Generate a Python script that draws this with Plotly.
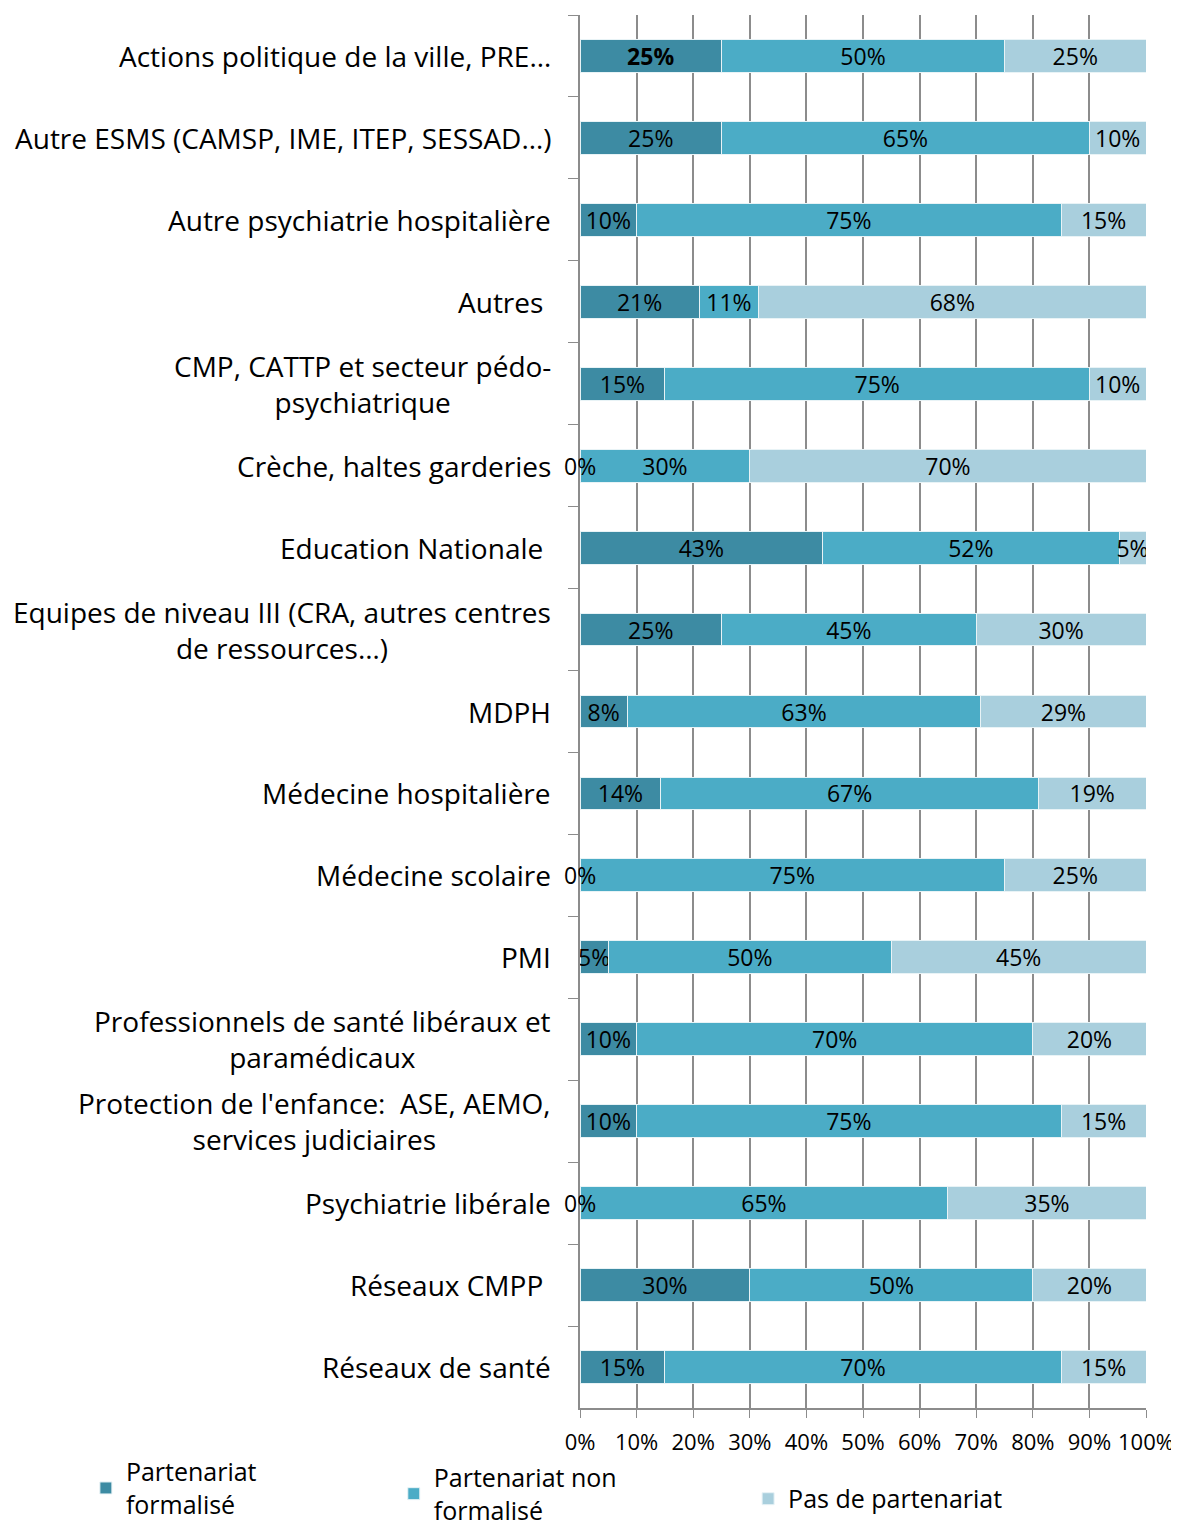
import plotly.graph_objects as go

categories = [
    "Actions politique de la ville, PRE…",
    "Autre ESMS (CAMSP, IME, ITEP, SESSAD…)",
    "Autre psychiatrie hospitalière",
    "Autres\u00a0",
    "CMP, CATTP et secteur pédo-<br>psychiatrique",
    "Crèche, haltes garderies",
    "Education Nationale\u00a0",
    "Equipes de niveau III (CRA, autres centres<br>de ressources…)",
    "MDPH",
    "Médecine hospitalière",
    "Médecine scolaire",
    "PMI",
    "Professionnels de santé libéraux et<br>paramédicaux",
    "Protection de l'enfance:  ASE, AEMO,<br>services judiciaires",
    "Psychiatrie libérale",
    "Réseaux CMPP\u00a0",
    "Réseaux de santé",
]
formalise = [25, 25, 10, 21.05, 15, 0, 42.86, 25, 8.33, 14.29, 0, 5, 10, 10, 0, 30, 15]
non_formalise = [50, 65, 75, 10.53, 75, 30, 52.38, 45, 62.5, 66.67, 75, 50, 70, 75, 65, 50, 70]
pas_partenariat = [25, 10, 15, 68.42, 10, 70, 4.76, 30, 29.17, 19.05, 25, 45, 20, 15, 35, 20, 15]

series = [
    ("Partenariat<br>formalisé", formalise, "#3d8ba3", "legend"),
    ("Partenariat non<br>formalisé", non_formalise, "#4bacc6", "legend2"),
    ("Pas de partenariat", pas_partenariat, "#a9cfdd", "legend3"),
]

FONT = "Open Sans"

fig = go.Figure()
for name, vals, color, leg in series:
    # round half up, like the spreadsheet labels
    text = [f"{int(v + 0.5)}%" if v > 0 else "" for v in vals]
    if vals is formalise:
        text[0] = "<b>" + text[0] + "</b>"
    fig.add_trace(
        go.Bar(
            y=categories,
            x=vals,
            name=name,
            orientation="h",
            marker=dict(color=color, line=dict(color="#e8f3f6", width=1)),
            text=text,
            textposition="inside",
            insidetextanchor="middle",
            textangle=0,
            constraintext="none",
            textfont=dict(family=FONT, size=23, color="black"),
            legend=leg,
            showlegend=True,
        )
    )

annotations = []
# labels for zero-width segments
for cat, v in zip(categories, formalise):
    if v == 0:
        annotations.append(
            dict(x=0, y=cat, xref="x", yref="y", text="0%", showarrow=False,
                 font=dict(family=FONT, size=23, color="black"))
        )
# category labels (centered multi-line, right-anchored)
for cat in categories:
    annotations.append(
        dict(x=0, y=cat, xref="paper", yref="y", text=cat, showarrow=False,
             xanchor="right", xshift=-27, align="center",
             font=dict(family=FONT, size=28, color="black"))
    )

legend_style = dict(orientation="h", xanchor="left", yanchor="middle",
                    font=dict(family=FONT, size=25, color="black"), visible=True)

# page body has an 8px offset, so the figure is 8px smaller than the window
fig.update_layout(
    width=1171,
    height=1518,
    margin=dict(l=572, r=33, t=7, b=118, autoexpand=False),
    plot_bgcolor="white",
    paper_bgcolor="white",
    barmode="stack",
    bargap=0.6,
    showlegend=True,
    font=dict(family=FONT, color="black"),
    annotations=annotations,
    xaxis=dict(
        range=[0, 100],
        tickvals=[0, 10, 20, 30, 40, 50, 60, 70, 80, 90, 100],
        ticktext=[f"{t}%" for t in range(0, 101, 10)],
        showgrid=True,
        gridcolor="#8c8c8c",
        gridwidth=1.5,
        showline=True,
        linecolor="#8c8c8c",
        linewidth=2,
        ticks="outside",
        ticklen=8,
        tickcolor="#8c8c8c",
        ticklabelstandoff=6,
        tickfont=dict(family=FONT, size=22, color="black"),
        zeroline=False,
    ),
    yaxis=dict(
        autorange="reversed",
        showticklabels=False,
        tickson="boundaries",
        ticks="outside",
        ticklen=10,
        tickcolor="#8c8c8c",
        showline=True,
        linecolor="#8c8c8c",
        linewidth=2,
        showgrid=False,
    ),
    legend=dict(x=-0.873, y=-0.0574, **legend_style),
    legend2=dict(x=-0.329, y=-0.0615, **legend_style),
    legend3=dict(x=0.297, y=-0.0653, **legend_style),
)

fig.write_html("out.html")
